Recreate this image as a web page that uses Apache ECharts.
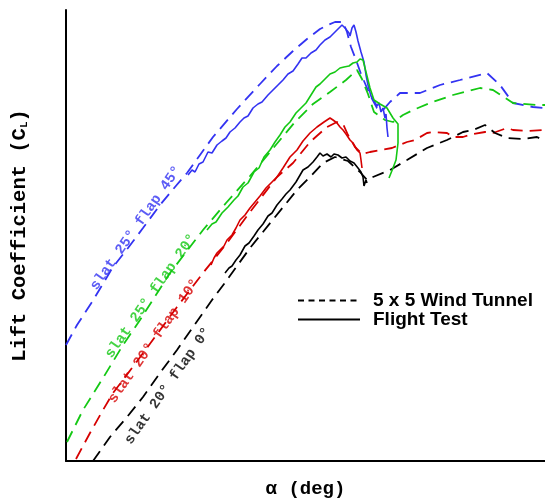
<!DOCTYPE html>
<html>
<head>
<meta charset="utf-8">
<script src="https://cdn.jsdelivr.net/npm/echarts@6/dist/echarts.min.js"></script>
<style>
html, body { margin: 0; padding: 0; background: #fff; }
#chart { width: 545px; height: 500px; }
</style>
</head>
<body>
<div id="chart"></div>
<script>
// values: [alpha (deg), CL]
var blueTunnel = [[0,1.16],[0.55,1.36],[1.3,1.59],[2.35,1.94],[3.1,2.13],[3.85,2.33],[4.7,2.56],[5.45,2.74],[6.05,2.88],[6.7,3.06],[7.35,3.24],[8.55,3.52],[9.7,3.77],[10.55,3.95],[11.35,4.1],[12.05,4.22],[12.7,4.32],[13.1,4.36],[13.45,4.39],[13.85,4.39],[14.05,4.29],[14.25,4.14],[14.5,4.01],[14.75,3.87],[15.2,3.66],[15.55,3.53],[15.85,3.51],[16.2,3.59],[16.7,3.68],[17.7,3.68],[18.7,3.76],[19.7,3.81],[21.05,3.88],[21.7,3.76],[22.35,3.58],[23.35,3.54],[23.95,3.53]]
var blueFlight = [[6.1,2.86],[6.3,2.91],[6.45,2.89],[6.65,2.97],[6.85,2.99],[7.1,3.09],[7.3,3.08],[7.55,3.16],[7.8,3.2],[8.0,3.23],[8.2,3.29],[8.45,3.33],[8.7,3.39],[8.9,3.43],[9.1,3.45],[9.35,3.53],[9.6,3.57],[9.8,3.59],[10.1,3.66],[10.3,3.7],[10.6,3.76],[10.85,3.81],[11.1,3.87],[11.35,3.9],[11.6,3.97],[11.8,4.03],[12.0,4.03],[12.25,4.08],[12.5,4.11],[12.7,4.16],[12.95,4.21],[13.2,4.24],[13.4,4.28],[13.6,4.32],[13.8,4.36],[13.95,4.33],[14.05,4.34],[14.15,4.28],[14.2,4.25],[14.3,4.33],[14.4,4.36],[14.5,4.29],[14.6,4.2],[14.75,4.09],[14.9,3.99],[15.0,3.86],[15.1,3.76],[15.25,3.65],[15.4,3.6],[15.55,3.55],[15.65,3.58],[15.75,3.49],[15.85,3.53],[15.95,3.43],[16.0,3.47],[16.05,3.33],[16.1,3.24]]
var greenTunnel = [[0.05,0.19],[0.85,0.51],[1.85,0.83],[2.85,1.16],[3.7,1.41],[5.2,1.88],[6.85,2.31],[8.0,2.58],[9.2,2.85],[10.45,3.15],[11.45,3.39],[12.35,3.57],[13.2,3.69],[14.0,3.81],[14.55,3.91],[14.8,3.82],[15.1,3.67],[15.4,3.49],[15.95,3.41],[16.35,3.39],[16.85,3.46],[17.35,3.51],[18.2,3.58],[19.35,3.66],[20.7,3.73],[21.35,3.71],[22.35,3.58],[23.55,3.56],[23.95,3.56]]
var greenFlight = [[7.05,2.31],[7.3,2.37],[7.5,2.39],[7.8,2.48],[8.1,2.54],[8.4,2.61],[8.6,2.65],[8.85,2.74],[9.1,2.78],[9.4,2.89],[9.65,2.93],[9.9,3.04],[10.2,3.11],[10.45,3.19],[10.7,3.26],[10.95,3.34],[11.2,3.39],[11.5,3.48],[11.8,3.54],[12.0,3.58],[12.25,3.66],[12.5,3.74],[12.7,3.77],[12.95,3.82],[13.2,3.87],[13.45,3.89],[13.7,3.93],[13.9,3.94],[14.15,3.95],[14.35,3.98],[14.55,3.99],[14.7,4.02],[14.85,4.01],[15.0,3.89],[15.2,3.73],[15.4,3.61],[15.7,3.57],[16.05,3.53],[16.35,3.43],[16.6,3.37],[16.6,3.18],[16.5,3.01],[16.35,2.93],[16.15,2.83]]
var redTunnel = [[0.5,0.02],[1.2,0.28],[1.85,0.51],[2.35,0.68],[3.3,0.93],[4.3,1.2],[5.55,1.54],[6.85,1.88],[8.05,2.18],[9.2,2.49],[10.55,2.84],[11.35,2.98],[12.2,3.19],[13.05,3.34],[13.55,3.39],[13.85,3.37],[14.1,3.26],[14.45,3.14],[14.8,3.07],[15.2,3.09],[15.7,3.11],[16.3,3.13],[17.05,3.19],[17.45,3.21],[18.05,3.28],[18.35,3.29],[19.05,3.28],[19.35,3.24],[19.85,3.24],[20.35,3.27],[20.95,3.29],[21.35,3.28],[22.05,3.33],[22.35,3.31],[23.05,3.3],[23.95,3.31]]
var redFlight = [[7.25,1.96],[7.4,2.03],[7.55,2.08],[7.7,2.11],[7.9,2.15],[8.05,2.21],[8.3,2.26],[8.5,2.33],[8.7,2.41],[8.95,2.46],[9.2,2.53],[9.45,2.59],[9.7,2.65],[10.0,2.73],[10.3,2.79],[10.55,2.84],[10.85,2.93],[11.2,3.04],[11.55,3.11],[11.85,3.2],[12.2,3.28],[12.55,3.34],[12.9,3.39],[13.2,3.43],[13.35,3.41],[13.55,3.38],[13.7,3.34],[13.85,3.31],[14.0,3.27],[14.2,3.21],[14.35,3.18],[14.55,3.11],[14.7,3.08],[14.75,3.01],[14.8,2.93]]
var blackTunnel = [[1.35,0],[2.2,0.24],[3.05,0.44],[3.85,0.64],[4.7,0.88],[5.55,1.11],[6.35,1.34],[7.3,1.61],[8.05,1.81],[9.2,2.13],[10.25,2.39],[11.55,2.71],[12.2,2.84],[12.85,2.98],[13.45,3.04],[14.1,3.0],[14.7,2.89],[15.05,2.81],[15.35,2.84],[16.2,2.91],[17.05,3.01],[18.05,3.13],[19.05,3.21],[19.85,3.29],[20.35,3.31],[20.95,3.36],[21.45,3.28],[22.05,3.23],[22.85,3.22],[23.55,3.24],[23.95,3.2]]
var blackFlight = [[7.95,1.88],[8.15,1.93],[8.3,1.95],[8.5,2.01],[8.7,2.06],[8.95,2.15],[9.15,2.18],[9.4,2.25],[9.6,2.31],[9.85,2.37],[10.1,2.45],[10.3,2.48],[10.55,2.56],[10.8,2.62],[11.0,2.67],[11.2,2.71],[11.5,2.79],[11.85,2.91],[12.1,2.94],[12.35,2.99],[12.55,3.04],[12.7,3.08],[12.85,3.05],[13.05,3.07],[13.25,3.04],[13.4,3.07],[13.6,3.06],[13.8,3.03],[14.0,3.04],[14.2,3.0],[14.4,2.98],[14.6,2.93],[14.75,2.89],[14.85,2.84],[14.9,2.75],[14.95,2.73],[15.0,2.81],[15.05,2.78]]

var configNames = ['slat 25\u00b0 flap 45\u00b0', 'slat 25\u00b0 flap 20\u00b0', 'slat 20\u00b0 flap 10\u00b0', 'slat 20\u00b0 flap 0\u00b0']
var configColors = ['#3333f2', '#14c814', '#d60000', '#000000']
var labelAnchors = [[3.5, 2.33], [4.25, 1.65], [4.4, 1.2], [5.1, 0.75]]

var chart = echarts.init(document.getElementById('chart'))

var monoFont = 'Liberation Mono'

function curve(name, data, color, dashed) {
  return {
    name: name,
    type: 'line',
    data: data,
    symbol: 'none',
    silent: true,
    z: dashed ? 2 : 3,
    lineStyle: { color: color, width: dashed ? 1.8 : 1.6, type: dashed ? [12, 7] : 'solid' }
  }
}

var tunnels = [blueTunnel, greenTunnel, redTunnel, blackTunnel]
var flights = [blueFlight, greenFlight, redFlight, blackFlight]
var series = []
for (var i = 0; i < 4; i++) {
  series.push(curve('t' + i, tunnels[i], configColors[i], true))
  series.push(curve('f' + i, flights[i], configColors[i], false))
}

// legend-only series
series.push({ name: '5 x 5 Wind Tunnel', type: 'line', data: [], symbol: 'none', itemStyle: { color: '#000' }, lineStyle: { color: '#000', width: 2, type: [6, 4.5] } })
series.push({ name: 'Flight Test', type: 'line', data: [], symbol: 'none', itemStyle: { color: '#000' }, lineStyle: { color: '#000', width: 2 } })

// rotated configuration labels
series.push({
  type: 'scatter',
  silent: true,
  symbolSize: 1,
  itemStyle: { color: 'rgba(0,0,0,0)' },
  z: 5,
  data: labelAnchors.map(function (p, k) {
    return { value: p, name: configNames[k], label: { color: configColors[k] } }
  }),
  label: {
    show: true,
    position: 'inside',
    formatter: '{b}',
    rotate: 55,
    align: 'center',
    verticalAlign: 'middle',
    fontFamily: monoFont,
    fontWeight: 'bold',
    fontSize: 14.5
  }
})

var option = {
  animation: false,
  grid: { left: 66, right: 0, top: 10, bottom: 39, outerBoundsMode: 'none' },
  legend: {
    data: ['5 x 5 Wind Tunnel', 'Flight Test'],
    orient: 'vertical',
    left: 297,
    top: 291,
    padding: 0,
    itemWidth: 62,
    itemHeight: 14,
    itemGap: 0,
    selectedMode: false,
    itemStyle: { opacity: 0 },
    textStyle: { fontFamily: 'Liberation Sans', fontWeight: 'bold', fontSize: 19, color: '#000', padding: [0, 0, 0, 8], lineHeight: 14 }
  },
  xAxis: {
    type: 'value',
    min: 0,
    max: 23.95,
    name: '\u03b1 (deg)',
    nameLocation: 'middle',
    nameGap: 19,
    nameTextStyle: { fontFamily: monoFont, fontWeight: 'bold', fontSize: 19, color: '#000' },
    axisLine: { onZero: false, lineStyle: { color: '#000', width: 2 } },
    axisTick: { show: false },
    axisLabel: { show: false },
    splitLine: { show: false }
  },
  yAxis: {
    type: 'value',
    min: 0,
    max: 4.51,
    name: '{a|Lift Coefficient (C}{s|L}{a|)}',
    nameLocation: 'middle',
    nameRotate: 90,
    nameGap: 36,
    nameTextStyle: {
      rich: {
        a: { fontFamily: monoFont, fontWeight: 'bold', fontSize: 20.5, color: '#000' },
        s: { fontFamily: monoFont, fontWeight: 'bold', fontSize: 11, color: '#000', padding: [9, 0, 0, 0] }
      }
    },
    axisLine: { show: true, onZero: false, lineStyle: { color: '#000', width: 2 } },
    axisTick: { show: false },
    axisLabel: { show: false },
    splitLine: { show: false }
  },
  series: series
}

chart.setOption(option)
</script>
</body>
</html>
